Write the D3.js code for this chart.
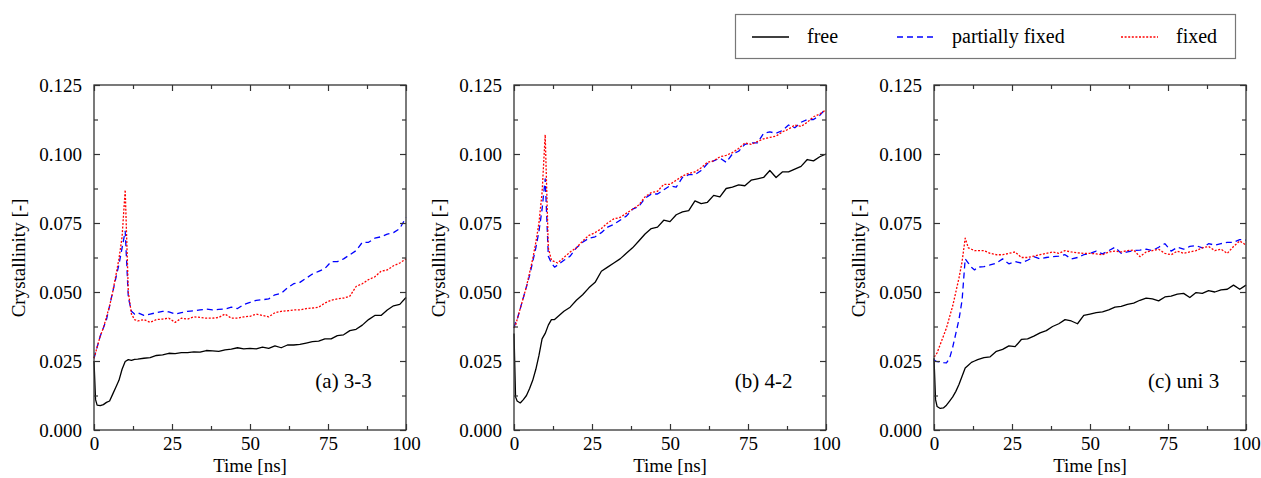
<!DOCTYPE html>
<html lang="en">
  <head>
    <meta charset="UTF-8" />
    <title>Crystallinity vs time</title>
    <script src="https://d3js.org/d3.v7.min.js" charset="utf-8"></script>
    <style>
      body { margin: 0; background: #fff; }
      svg text { font-family: "Liberation Serif", "Times New Roman", Times, "DejaVu Serif", serif; fill: #000; }
    </style>
  </head>
  <body>
    <svg class="chart"></svg>
    <script>
      // time [ns], shared by every series
      let time = [0, 0.5, 1, 2, 3, 4, 5, 6, 7, 8, 9, 10, 11, 12, 13, 14,
        16, 18, 20, 22, 24, 26, 28, 30, 32, 34, 36, 38, 40, 42, 44, 46, 48, 50,
        52, 54, 56, 58, 60, 62, 64, 66, 68, 70, 72, 74, 76, 78, 80, 82, 84, 86,
        88, 90, 92, 94, 96, 98, 100];

      // (a) 3-3
      let freeA = [0.025, 0.011, 0.009, 0.0088, 0.0092, 0.010, 0.0105, 0.013, 0.0155, 0.018, 0.022, 0.0248, 0.0255, 0.0252, 0.0256, 0.0257,
        0.026, 0.0262, 0.027, 0.0272, 0.0278, 0.0277, 0.028, 0.028, 0.0283, 0.0282, 0.0288, 0.0287, 0.0285, 0.029, 0.0293, 0.0298, 0.0294, 0.0296,
        0.0294, 0.030, 0.0296, 0.0305, 0.0298, 0.0308, 0.0308, 0.031, 0.0315, 0.032, 0.0322, 0.033, 0.033, 0.0342, 0.0345, 0.036, 0.0365, 0.038,
        0.040, 0.0415, 0.0415, 0.0435, 0.045, 0.0455, 0.048];
      let partialA = [0.026, 0.028, 0.030, 0.034, 0.037, 0.040, 0.045, 0.050, 0.055, 0.060, 0.066, 0.072, 0.048, 0.043, 0.042, 0.0425,
        0.0415, 0.042, 0.0425, 0.043, 0.0428, 0.042, 0.0425, 0.043, 0.0432, 0.0435, 0.0438, 0.0435, 0.0437, 0.0438, 0.0445, 0.044, 0.0455, 0.0462,
        0.047, 0.0472, 0.0475, 0.049, 0.0495, 0.0515, 0.053, 0.0535, 0.055, 0.0565, 0.0575, 0.0585, 0.061, 0.061, 0.062, 0.0635, 0.065, 0.068,
        0.068, 0.0695, 0.070, 0.071, 0.0715, 0.073, 0.077];
      let fixedA = [0.026, 0.028, 0.030, 0.034, 0.037, 0.041, 0.045, 0.050, 0.056, 0.062, 0.070, 0.087, 0.050, 0.042, 0.040, 0.0395,
        0.040, 0.039, 0.040, 0.0402, 0.0405, 0.039, 0.0405, 0.0402, 0.041, 0.0408, 0.0405, 0.0405, 0.0408, 0.042, 0.0405, 0.0405, 0.041, 0.0412,
        0.042, 0.0415, 0.041, 0.0425, 0.043, 0.0432, 0.0435, 0.0435, 0.044, 0.0442, 0.0445, 0.046, 0.047, 0.0475, 0.0478, 0.0485, 0.052, 0.053,
        0.0545, 0.0555, 0.0575, 0.058, 0.0595, 0.0605, 0.062];

      // (b) 4-2
      let freeB = [0.035, 0.012, 0.0105, 0.0098, 0.011, 0.0125, 0.015, 0.018, 0.022, 0.027, 0.033, 0.035, 0.038, 0.040, 0.040, 0.041,
        0.043, 0.0445, 0.047, 0.049, 0.0515, 0.0535, 0.0575, 0.059, 0.0605, 0.062, 0.064, 0.066, 0.0685, 0.071, 0.073, 0.0735, 0.076, 0.0755,
        0.078, 0.079, 0.0795, 0.083, 0.082, 0.0825, 0.085, 0.0845, 0.0875, 0.088, 0.0888, 0.0885, 0.0905, 0.091, 0.0915, 0.094, 0.0915, 0.0935,
        0.0935, 0.0945, 0.0955, 0.098, 0.0975, 0.099, 0.100];
      let partialB = [0.037, 0.039, 0.040, 0.044, 0.048, 0.052, 0.056, 0.061, 0.066, 0.072, 0.080, 0.091, 0.063, 0.0605, 0.059, 0.0598,
        0.0615, 0.063, 0.066, 0.068, 0.0695, 0.070, 0.0715, 0.0735, 0.0745, 0.076, 0.0775, 0.080, 0.081, 0.084, 0.0855, 0.0855, 0.087, 0.0885,
        0.088, 0.0915, 0.0925, 0.0925, 0.094, 0.0965, 0.0975, 0.0985, 0.097, 0.100, 0.101, 0.1035, 0.104, 0.104, 0.1075, 0.108, 0.1075, 0.1085,
        0.1105, 0.1095, 0.1115, 0.1125, 0.1125, 0.114, 0.1165];
      let fixedB = [0.037, 0.038, 0.040, 0.044, 0.048, 0.052, 0.057, 0.062, 0.068, 0.075, 0.086, 0.107, 0.066, 0.0615, 0.061, 0.0605,
        0.0625, 0.0645, 0.066, 0.0685, 0.0705, 0.0715, 0.073, 0.075, 0.0765, 0.077, 0.0785, 0.080, 0.0815, 0.0845, 0.086, 0.0865, 0.089, 0.089,
        0.0905, 0.092, 0.093, 0.0935, 0.095, 0.097, 0.0975, 0.099, 0.0995, 0.1005, 0.102, 0.104, 0.1035, 0.1045, 0.1055, 0.106, 0.1065, 0.108,
        0.109, 0.1105, 0.110, 0.1115, 0.1135, 0.1145, 0.116];

      // (c) uni 3
      let freeC = [0.026, 0.011, 0.0085, 0.0078, 0.008, 0.009, 0.0105, 0.012, 0.014, 0.0165, 0.0195, 0.0225, 0.0235, 0.0245, 0.025, 0.0255,
        0.0262, 0.0265, 0.0285, 0.0292, 0.0305, 0.0302, 0.0328, 0.033, 0.034, 0.0352, 0.036, 0.0375, 0.0385, 0.040, 0.0395, 0.0385, 0.0415, 0.042,
        0.0425, 0.0428, 0.0435, 0.0445, 0.0448, 0.0455, 0.046, 0.047, 0.0478, 0.0475, 0.0468, 0.0482, 0.0485, 0.0492, 0.0495, 0.048, 0.0498, 0.0495,
        0.0505, 0.050, 0.0508, 0.051, 0.0525, 0.051, 0.0525];
      let partialC = [0.0255, 0.025, 0.0248, 0.0246, 0.0244, 0.0243, 0.026, 0.030, 0.035, 0.040, 0.047, 0.062, 0.0605, 0.059, 0.058, 0.059,
        0.0592, 0.0598, 0.0605, 0.062, 0.0602, 0.061, 0.0605, 0.0615, 0.0628, 0.062, 0.0625, 0.0628, 0.063, 0.0635, 0.062, 0.0625, 0.0635, 0.064,
        0.0648, 0.0638, 0.065, 0.0662, 0.064, 0.0645, 0.065, 0.0652, 0.0655, 0.065, 0.0662, 0.0675, 0.0648, 0.0662, 0.0655, 0.0665, 0.0668, 0.066,
        0.0675, 0.067, 0.0675, 0.068, 0.068, 0.069, 0.0688];
      let fixedC = [0.0265, 0.027, 0.028, 0.031, 0.034, 0.037, 0.041, 0.045, 0.050, 0.055, 0.061, 0.0695, 0.066, 0.0655, 0.065, 0.065,
        0.065, 0.064, 0.0635, 0.0635, 0.064, 0.0645, 0.0625, 0.0625, 0.063, 0.0635, 0.064, 0.0645, 0.064, 0.065, 0.0645, 0.0642, 0.064, 0.064,
        0.0638, 0.0635, 0.0645, 0.0648, 0.0645, 0.065, 0.0652, 0.0628, 0.0645, 0.065, 0.0655, 0.064, 0.0635, 0.0648, 0.064, 0.0645, 0.065, 0.066,
        0.0665, 0.065, 0.0655, 0.064, 0.0665, 0.0685, 0.067];

      let seriesNames = ["free", "partially fixed", "fixed"];
      let panelLabels = ["(a) 3-3", "(b) 4-2", "(c) uni 3"];
      let xTicks = [0, 25, 50, 75, 100];
      let xMinor = [12.5, 37.5, 62.5, 87.5];
      let yTicks = [0, 0.025, 0.05, 0.075, 0.1, 0.125];
      let yMinor = [0.0125, 0.0375, 0.0625, 0.0875, 0.1125];

      let panels = [
        { label: panelLabels[0], data: [freeA, partialA, fixedA] },
        { label: panelLabels[1], data: [freeB, partialB, fixedB] },
        { label: panelLabels[2], data: [freeC, partialC, fixedC] }
      ];

      let width = 1261;
      let height = 478;
      let plotLefts = [94, 514, 934];
      let plotW = 312;
      let plotTop = 85;
      let plotBottom = 430;
      let serif = "'Liberation Serif', 'Times New Roman', Times, 'DejaVu Serif', serif";

      let styles = [
        { color: "#000000", dash: null, w: 1.3 },
        { color: "#0000ff", dash: "6,4", w: 1.3 },
        { color: "#ff0000", dash: "2,1.6", w: 1.3 }
      ];

      let svg = d3.select(".chart").attr("width", width).attr("height", height);

      panels.forEach(function(p, k) {
        let x = d3.scaleLinear().domain([0, 100]).range([plotLefts[k], plotLefts[k] + plotW]);
        let y = d3.scaleLinear().domain([0, 0.125]).range([plotBottom, plotTop]);
        let g = svg.append("g");

        let line = d3.line()
          .x(function(d, i) { return x(time[i]); })
          .y(function(d) { return y(d); });

        // curves
        p.data.forEach(function(series, s) {
          g.append("path")
            .datum(series)
            .attr("d", line)
            .attr("fill", "none")
            .attr("stroke", styles[s].color)
            .attr("stroke-width", styles[s].w)
            .attr("stroke-dasharray", styles[s].dash)
            .attr("stroke-linejoin", "round");
        });

        // frame
        g.append("rect")
          .attr("x", x(0)).attr("y", y(0.125))
          .attr("width", x(100) - x(0)).attr("height", y(0) - y(0.125))
          .attr("fill", "none").attr("stroke", "#333").attr("stroke-width", 1.3);

        function axisG(axis, tx, ty) {
          let a = g.append("g").attr("transform", "translate(" + tx + "," + ty + ")").call(axis);
          a.attr("font-family", serif).attr("font-size", 19);
          a.select(".domain").remove();
          a.selectAll("line").attr("stroke", "#333").attr("stroke-width", 1.2);
          return a;
        }

        axisG(d3.axisBottom(x).tickValues(xTicks).tickSize(-6).tickPadding(7).tickFormat(d3.format("d")), 0, plotBottom);
        axisG(d3.axisBottom(x).tickValues(xMinor).tickSize(-4).tickFormat(""), 0, plotBottom);
        axisG(d3.axisTop(x).tickValues(xTicks).tickSize(-6).tickFormat(""), 0, plotTop);
        axisG(d3.axisTop(x).tickValues(xMinor).tickSize(-4).tickFormat(""), 0, plotTop);

        axisG(d3.axisLeft(y).tickValues(yTicks).tickSize(-6).tickPadding(12).tickFormat(d3.format(".3f")), plotLefts[k], 0);
        axisG(d3.axisLeft(y).tickValues(yMinor).tickSize(-4).tickFormat(""), plotLefts[k], 0);
        axisG(d3.axisRight(y).tickValues(yTicks).tickSize(-6).tickFormat(""), plotLefts[k] + plotW, 0);
        axisG(d3.axisRight(y).tickValues(yMinor).tickSize(-4).tickFormat(""), plotLefts[k] + plotW, 0);

        // axis titles
        g.append("text")
          .attr("x", x(50)).attr("y", 472)
          .attr("text-anchor", "middle").attr("font-size", 19)
          .text("Time [ns]");
        g.append("text")
          .attr("transform", "translate(" + (plotLefts[k] - 69) + ",258) rotate(-90)")
          .attr("text-anchor", "middle").attr("font-size", 19)
          .text("Crystallinity [-]");

        // panel tag
        g.append("text")
          .attr("x", x(80)).attr("y", 388)
          .attr("text-anchor", "middle").attr("font-size", 21)
          .text(p.label);
      });

      // legend
      let legend = svg.append("g");
      legend.append("rect")
        .attr("x", 735.5).attr("y", 14.5).attr("width", 500).attr("height", 44)
        .attr("fill", "#fff").attr("stroke", "#777").attr("stroke-width", 1.2);
      let legX = [752, 897, 1121];
      seriesNames.forEach(function(name, s) {
        legend.append("line")
          .attr("x1", legX[s]).attr("x2", legX[s] + 37)
          .attr("y1", 37).attr("y2", 37)
          .attr("stroke", styles[s].color)
          .attr("stroke-width", styles[s].w)
          .attr("stroke-dasharray", styles[s].dash);
        legend.append("text")
          .attr("x", legX[s] + 55).attr("y", 43)
          .attr("font-size", 20)
          .text(name);
      });
    </script>
  </body>
</html>
